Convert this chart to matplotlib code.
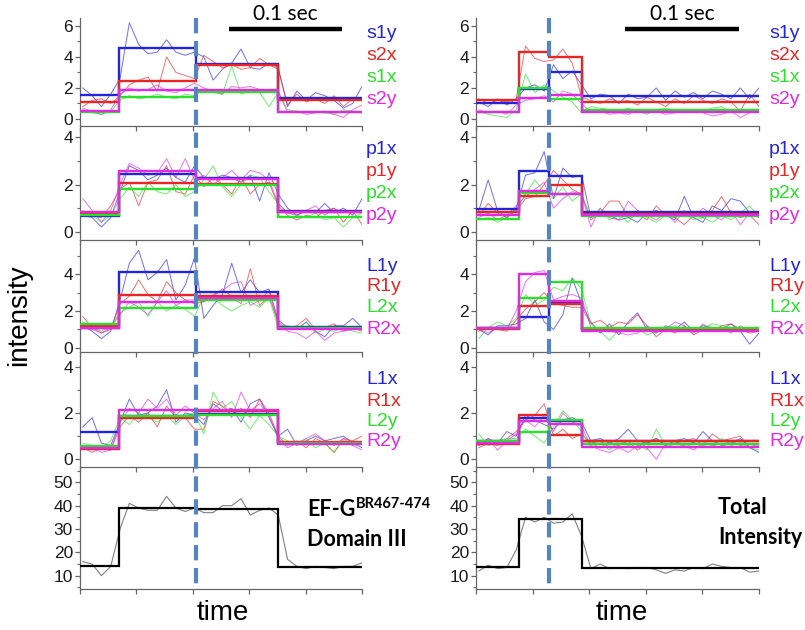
import numpy as np
import matplotlib
matplotlib.use("Agg")
import matplotlib.pyplot as plt
from matplotlib.ticker import MultipleLocator, NullFormatter
from matplotlib.transforms import blended_transform_factory
from matplotlib.lines import Line2D

plt.rcParams['font.family'] = ['Liberation Sans', 'DejaVu Sans']
plt.rcParams['lines.scale_dashes'] = False

# ---------------- data ----------------
frame_ms = 8.25
t0_ms = 2.5
n_frames = 31

left_edges = [0, 34.6, 103, 175.5, 250]
right_edges = [0, 38, 64.5, 93.6, 250]
left_marker_ms = 103
right_marker_ms = 64.5
scale_bar_ms = [132, 232]

colors = ['#2424D8', '#E82626', '#2BE02B', '#E22AE2']

row_names = [
    ['s1y', 's2x', 's1x', 's2y'],
    ['p1x', 'p1y', 'p2x', 'p2y'],
    ['L1y', 'R1y', 'L2x', 'R2x'],
    ['L1x', 'R1x', 'L2y', 'R2y'],
]

# step-fit levels  [pre, mid1, mid2, post]
left_levels = [
    [[1.55, 4.56, 3.55, 1.33], [1.08, 2.47, 3.48, 1.20], [0.43, 1.44, 1.74, 0.47], [0.52, 1.87, 1.87, 0.47]],
    [[0.68, 2.46, 2.28, 0.87], [0.77, 2.08, 2.01, 0.82], [0.70, 1.80, 1.97, 0.63], [0.82, 2.58, 2.23, 0.82]],
    [[1.10, 4.10, 3.04, 1.15], [1.16, 2.89, 2.80, 1.05], [1.29, 2.18, 2.59, 1.10], [1.05, 2.50, 2.71, 1.00]],
    [[1.16, 1.88, 1.97, 0.72], [0.43, 1.78, 2.07, 0.75], [0.58, 1.86, 1.93, 0.70], [0.48, 2.12, 2.14, 0.67]],
]
right_levels = [
    [[1.05, 1.95, 3.05, 1.48], [1.20, 4.30, 4.02, 1.12], [0.45, 1.98, 1.31, 0.58], [0.45, 1.38, 1.55, 0.45]],
    [[0.96, 2.58, 2.35, 0.85], [0.82, 1.52, 2.00, 0.77], [0.56, 1.65, 1.60, 0.68], [0.73, 1.72, 1.59, 0.73]],
    [[1.05, 1.70, 2.45, 1.02], [1.02, 2.28, 2.36, 1.04], [1.10, 2.70, 3.60, 1.06], [1.05, 4.02, 2.57, 0.90]],
    [[0.77, 1.78, 1.64, 0.77], [0.67, 1.93, 1.04, 0.81], [0.81, 1.20, 1.68, 0.67], [0.70, 1.64, 1.52, 0.55]],
]

# raw traces (one value per frame)
left_traces = [
    [
        [2.0,1.5,0.8,1.6,2.6,6.2,4.8,4.2,4.3,5.1,4.3,4.1,4.3,4.0,2.5,3.2,3.6,4.5,3.3,3.2,3.6,3.3,0.8,1.8,1.2,1.7,1.5,1.2,0.7,1.0,2.1],
        [0.8,1.2,1.3,1.0,1.5,2.2,2.5,2.7,1.8,4.0,3.0,2.8,2.6,4.1,3.7,3.3,3.5,3.2,3.3,3.9,3.5,3.2,0.9,1.6,1.1,1.3,1.0,1.5,0.8,1.3,1.2],
        [0.6,0.4,0.3,0.5,1.2,1.5,1.3,1.4,1.6,1.4,1.3,1.6,1.5,1.9,1.7,1.6,3.4,1.6,1.8,1.7,0.8,1.7,0.6,0.5,0.4,0.5,0.4,0.3,0.6,0.5,0.4],
        [0.7,0.5,0.3,0.6,1.6,2.0,1.8,1.9,2.2,1.8,1.7,2.0,2.3,2.0,1.8,1.6,2.1,2.0,2.1,1.9,1.7,1.8,0.4,0.5,0.3,0.4,0.5,0.3,0.1,0.6,0.9],
    ],
    [
        [0.7,0.6,0.2,0.6,1.7,2.8,2.6,2.2,2.4,2.7,2.3,2.1,2.8,2.3,2.2,2.4,2.3,2.1,2.4,1.3,2.5,1.6,1.0,0.7,0.9,0.8,1.2,0.8,1.0,0.7,1.4],
        [0.9,0.7,0.6,1.1,1.8,2.1,1.1,2.1,2.2,2.8,1.7,1.6,2.4,1.9,2.3,2.0,1.6,2.3,1.6,2.0,2.1,1.1,0.7,0.5,0.7,0.6,0.9,1.0,0.4,0.9,0.3],
        [0.8,0.7,0.4,0.7,1.4,1.9,1.5,2.1,1.7,1.6,2.0,1.5,1.7,2.2,2.8,1.9,1.5,2.0,2.4,2.3,1.7,1.2,0.8,0.7,0.6,0.8,0.5,0.6,0.2,0.6,0.8],
        [1.4,0.9,0.4,0.9,2.0,2.9,2.7,2.4,2.5,3.1,2.3,3.1,2.2,2.4,2.0,2.3,2.6,2.2,2.6,2.5,2.2,1.2,0.8,0.7,0.9,1.1,0.7,1.0,0.8,0.9,0.9],
    ],
    [
        [1.2,0.9,0.5,0.9,2.6,4.6,5.3,3.7,4.1,4.8,2.6,3.4,4.9,1.6,2.3,2.9,4.6,3.0,3.7,3.0,3.2,1.5,1.1,1.0,1.4,0.9,0.6,1.2,1.2,1.6,1.1],
        [1.7,1.1,0.8,1.0,2.4,2.8,3.7,2.9,2.5,3.6,3.0,2.6,2.4,2.5,2.8,3.2,2.8,2.4,4.3,2.3,2.8,1.4,1.0,1.2,1.6,1.0,1.1,1.3,0.9,1.1,0.9],
        [1.4,1.1,0.9,1.2,1.9,2.2,2.5,1.7,2.5,2.0,2.3,2.1,1.7,2.8,2.7,2.3,2.0,2.3,2.5,2.2,2.7,1.1,1.2,1.0,1.4,0.8,1.0,0.9,1.1,0.9,0.8],
        [1.1,1.0,0.8,1.1,1.8,2.5,2.2,1.8,2.5,3.1,2.3,2.6,2.6,2.5,2.9,3.1,3.5,3.6,2.3,2.6,3.1,1.3,0.9,0.8,0.5,0.9,0.4,0.8,0.9,1.0,1.1],
    ],
    [
        [1.4,1.8,0.7,0.6,1.6,2.6,1.9,2.0,2.3,3.0,1.6,2.0,1.9,1.5,2.4,2.1,2.2,1.6,2.4,2.6,1.8,1.0,1.3,0.6,0.8,1.0,0.8,0.9,1.0,0.7,0.5],
        [0.5,0.3,0.5,0.4,1.4,1.9,1.6,2.0,1.4,2.3,1.8,1.8,1.3,1.3,2.5,2.3,1.9,2.2,1.8,2.6,2.0,1.0,0.6,0.8,0.5,0.9,0.7,0.3,0.9,0.8,1.0],
        [0.7,0.6,0.5,0.8,1.8,1.5,2.0,1.8,1.6,1.9,1.5,1.9,2.0,1.1,2.9,2.2,2.5,1.8,1.3,1.9,1.5,1.0,0.8,0.6,0.9,0.5,0.7,0.3,0.8,0.6,0.7],
        [0.6,0.5,0.3,0.4,1.6,2.2,2.0,2.6,2.2,2.6,1.9,2.3,2.0,1.7,2.2,2.5,1.8,2.9,2.1,2.4,1.9,0.9,0.5,0.7,0.9,1.1,0.8,0.6,0.9,0.6,0.4],
    ],
]
right_traces = [
    [
        [1.1,0.8,1.3,0.9,1.3,2.0,2.2,1.8,3.5,2.6,3.1,2.2,1.3,1.6,1.5,1.0,1.6,1.3,1.4,2.0,1.2,1.8,1.4,1.7,1.3,1.8,1.6,1.3,2.0,1.3,2.0],
        [1.3,1.0,1.2,1.1,1.3,4.7,3.9,3.7,3.8,4.5,3.6,1.4,1.2,1.0,1.3,1.1,1.2,0.9,1.4,1.1,0.8,1.3,1.0,1.5,1.2,1.0,1.3,1.1,0.5,1.6,0.8],
        [0.5,0.3,0.2,0.1,0.6,2.9,1.7,2.2,1.8,1.4,1.1,0.4,0.8,0.7,0.6,0.5,0.7,0.5,0.3,0.6,0.7,0.5,0.4,0.6,0.5,0.7,0.8,0.4,0.6,0.5,0.6],
        [0.6,0.4,0.5,0.3,0.9,1.2,1.3,1.5,1.1,1.8,1.6,1.0,0.4,0.5,0.3,0.4,0.3,0.6,0.4,0.5,0.3,0.4,0.6,0.5,0.4,0.2,0.3,0.5,0.1,0.4,0.6],
    ],
    [
        [0.9,2.2,0.9,0.6,1.0,2.4,2.5,3.4,1.4,2.7,2.3,2.4,0.6,0.8,0.7,0.5,0.6,0.4,0.8,0.9,0.7,0.5,1.5,0.6,0.4,1.1,0.9,1.4,1.3,0.8,0.7],
        [0.7,1.2,0.8,0.6,0.9,1.4,1.5,2.0,2.6,2.2,1.8,1.6,0.5,0.8,1.3,1.3,0.6,0.8,0.5,1.1,0.7,0.6,0.3,0.7,0.6,0.9,1.5,0.8,0.6,0.7,0.3],
        [0.5,0.6,0.4,0.6,0.9,1.6,2.2,1.7,1.4,1.9,1.3,1.6,0.6,1.0,0.5,0.7,0.4,0.9,0.6,0.4,0.7,0.6,0.8,0.5,0.6,0.4,0.7,0.5,0.8,1.1,0.6],
        [0.6,0.8,0.5,0.7,1.1,1.5,1.8,2.1,1.0,1.4,1.7,1.6,0.2,1.0,0.6,0.5,1.3,0.9,0.7,0.5,0.8,0.4,0.9,0.6,1.0,0.7,0.5,0.9,0.3,0.8,0.6],
    ],
    [
        [1.0,0.7,1.2,1.2,1.3,1.6,2.6,1.4,1.0,1.8,3.8,2.4,1.4,0.8,1.3,0.7,1.4,1.9,1.0,0.8,1.2,1.0,1.4,0.9,1.2,1.1,1.0,1.3,0.9,0.2,0.8],
        [0.9,1.1,1.0,0.9,1.5,2.1,2.5,3.0,2.4,2.3,2.2,2.2,1.3,1.5,1.1,1.4,1.3,1.8,1.2,0.6,1.0,0.8,1.2,0.7,1.0,0.9,1.2,1.3,1.0,0.8,0.9],
        [0.5,1.1,1.4,1.2,1.6,2.9,2.3,2.6,3.3,3.1,3.8,3.2,1.3,0.9,0.4,1.0,1.0,1.1,0.7,0.9,1.1,1.2,0.9,1.0,1.1,1.3,1.2,1.1,1.0,0.9,1.0],
        [1.0,0.8,1.1,1.0,2.0,3.6,4.1,4.2,2.6,2.8,2.9,2.7,1.1,1.0,0.9,0.8,0.7,0.8,1.2,0.9,1.0,1.4,1.2,0.8,1.3,0.9,1.1,0.8,1.2,0.9,1.0],
    ],
    [
        [0.6,0.9,0.7,1.2,1.0,1.9,1.7,1.5,1.3,1.7,1.8,1.6,0.8,0.9,0.7,0.9,1.3,0.8,0.7,0.9,0.6,0.8,0.9,0.7,1.2,0.8,0.6,0.7,0.9,0.5,0.3],
        [0.5,0.7,0.6,0.9,1.2,1.7,1.9,2.4,1.0,1.3,0.9,1.1,0.7,0.8,0.5,0.6,0.8,0.4,0.7,0.9,0.6,0.7,0.8,0.9,0.6,1.1,0.8,0.9,1.0,0.5,0.7],
        [1.1,0.6,0.8,0.9,0.9,1.3,1.0,0.7,1.4,2.1,1.7,1.2,0.5,0.7,0.4,0.8,0.6,0.7,0.4,1.3,0.6,0.8,0.5,0.7,0.6,0.5,0.9,0.6,0.7,0.5,0.4],
        [0.6,0.9,0.4,0.8,1.1,1.7,1.4,1.9,1.2,2.0,1.6,1.4,0.6,0.4,0.3,0.5,0.3,0.6,0.5,0.0,0.7,0.5,0.6,0.4,0.7,0.6,0.5,0.8,0.6,0.5,0.6],
    ],
]

left_total_levels = [14.1, 38.9, 38.6, 13.9]
right_total_levels = [13.6, 34.3, 34.3, 13.1]
left_total_trace = [16,15,10,14,30,41,39,38,38,44,39,37.5,39,37,37,40,40,43,36,38,39,36,17,14,13,14,13.5,13,14,14,15.5]
right_total_trace = [12,14.5,13,13.5,21,35,33,35,32.5,33,36.5,27,13,15,13,13.5,13,13.5,13.5,12.5,11,12.5,12,13.5,13,15,14,13.5,13.5,11.5,12]

ylims = [(-0.45, 6.5), (-0.35, 4.4), (-0.23, 5.7), (-0.33, 4.5), (4.3, 55.7)]
yticks_major = [2, 2, 2, 2, 10]
yticks_minor = [1, 1, 1, 1, 5]

# ---------------- layout ----------------
W, H = 805, 630
fig = plt.figure(figsize=(W / 100, H / 100), dpi=100)

col_px = [(80, 362), (476, 759)]
row_px = [(18, 126), (128, 240), (243, 352), (355, 467), (469, 589)]
label_px_y = [[33, 55, 77, 99], [150, 172, 194, 215], [266, 287, 308, 329], [380, 401, 421, 442]]
label_px_x = [366, 769]
time_label_px = [(223, 613), (622, 613)]

def fx(px):
    return px / W

def fy(py):
    return 1 - py / H

t = t0_ms + frame_ms * np.arange(n_frames)

axes = []
for c in range(2):
    col_axes = []
    for r in range(5):
        x0, x1 = col_px[c]
        y0, y1 = row_px[r]
        ax = fig.add_axes([fx(x0), fy(y1), fx(x1) - fx(x0), fy(y0) - fy(y1)])
        ax.patch.set_alpha(0)
        ax.set_xlim(0, 250)
        ax.set_ylim(*ylims[r])
        for s in ['top', 'right']:
            ax.spines[s].set_visible(False)
        for s in ['left', 'bottom']:
            ax.spines[s].set_color('#666666')
            ax.spines[s].set_linewidth(0.9)
        ax.xaxis.set_major_locator(MultipleLocator(50))
        ax.xaxis.set_major_formatter(NullFormatter())
        ax.yaxis.set_major_locator(MultipleLocator(yticks_major[r]))
        ax.yaxis.set_minor_locator(MultipleLocator(yticks_minor[r]))
        ax.tick_params(axis='both', which='major', direction='out', length=3.5, width=0.9,
                       color='#666666', labelsize=12.5, labelcolor='#1a1a1a', pad=1.5)
        ax.tick_params(axis='y', which='minor', direction='out', length=2, width=0.8, color='#666666')
        col_axes.append(ax)
    axes.append(col_axes)

for c, (edges, levels_all, traces_all) in enumerate([
        (left_edges, left_levels, left_traces),
        (right_edges, right_levels, right_traces)]):
    for r in range(4):
        ax = axes[c][r]
        for k in range(4):
            ax.plot(t, traces_all[r][k], color=colors[k], lw=0.7, alpha=0.65, zorder=2)
        for k in range(4):
            ax.stairs(levels_all[r][k], edges, baseline=None, color=colors[k], lw=1.7, zorder=3)
        for k in range(4):
            fig.text(fx(label_px_x[c]), fy(label_px_y[r][k]), row_names[r][k], color=colors[k],
                     fontsize=14, ha='left', va='center')

# total intensity panels
for c, (edges, lv, tr) in enumerate([(left_edges, left_total_levels, left_total_trace),
                                      (right_edges, right_total_levels, right_total_trace)]):
    ax = axes[c][4]
    ax.plot(t, tr, color='#808080', lw=0.8, zorder=2)
    ax.stairs(lv, edges, baseline=None, color='black', lw=1.6, zorder=3)
    fig.text(fx(time_label_px[c][0]), fy(time_label_px[c][1]), 'time', fontsize=20,
             ha='center', va='center')

# scale bars
for c in range(2):
    ax = axes[c][0]
    tr = blended_transform_factory(ax.transData, fig.transFigure)
    ax.add_line(Line2D(scale_bar_ms, [fy(29), fy(29)], transform=tr, color='black', lw=3.2,
                       solid_capstyle='butt', clip_on=False))
    ax.text(np.mean(scale_bar_ms), fy(14), '0.1 sec', transform=tr, ha='center', va='center',
            fontsize=15, family=['Lato', 'DejaVu Sans'])

# dashed markers
for c, tm in enumerate([left_marker_ms, right_marker_ms]):
    ax = axes[c][0]
    tr = blended_transform_factory(ax.transData, fig.transFigure)
    fig.add_artist(Line2D([tm, tm], [fy(18), fy(584)], transform=tr, color='#5585C0', lw=3.0,
                          linestyle=(0, (11, 5.5))))

# y label
fig.text(fx(19), fy(315), 'intensity', rotation=90, fontsize=20, ha='center', va='center')

# panel annotations
bold_font = dict(family=['Lato', 'DejaVu Sans'], fontweight='bold', fontsize=15.5)
t1 = fig.text(fx(307), fy(510), 'EF-G', ha='left', va='center', **bold_font)
fig.text(fx(307), fy(539), 'Domain III', ha='left', va='center', **bold_font)
fig.canvas.draw()
bb = t1.get_window_extent()
fig.text(bb.x1 / W, fy(504), 'BR467-474', ha='left', va='center',
         family=['Lato', 'DejaVu Sans'], fontweight='bold', fontsize=10.5)
fig.text(fx(718), fy(508), 'Total', ha='left', va='center', **bold_font)
fig.text(fx(718), fy(537), 'Intensity', ha='left', va='center', **bold_font)

fig.savefig('out.png', dpi=100)
